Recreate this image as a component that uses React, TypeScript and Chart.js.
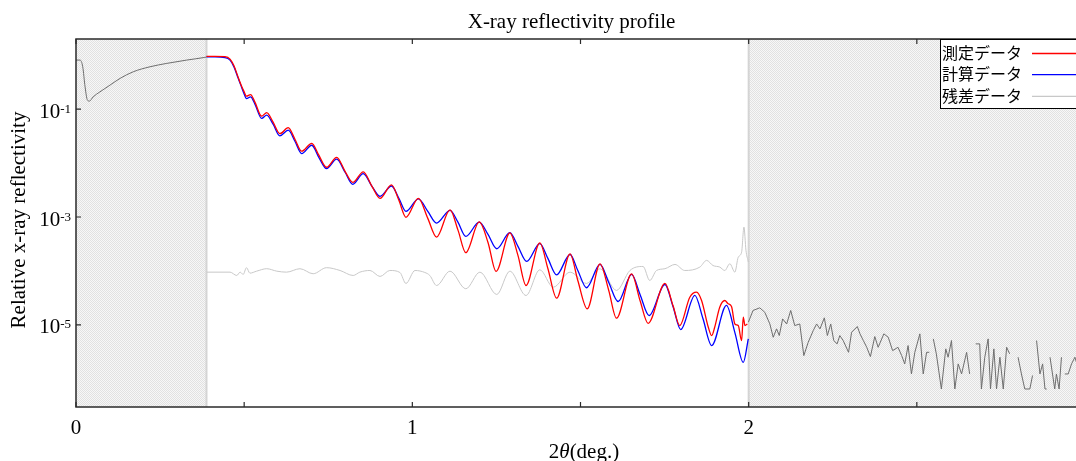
import React, { useEffect, useRef } from "react";
import { Chart, registerables } from "chart.js";

Chart.register(...registerables);

// ---------------- text ----------------
const chartTitle = "X-ray reflectivity profile";
const xTitleParts = ["2", "θ", "(deg.)"];
const yTitle = "Relative x-ray reflectivity";
const legendLabels = ["測定データ", "計算データ", "残差データ"];

// ---------------- axes ----------------
const xTickValues = [0, 0.5, 1, 1.5, 2, 2.5, 3];
const xTickLabels = ["0", "", "1", "", "2", "", "3"];
const yTickExponents = [-1, -3, -5];
const xRange = [0, 3];
const yRange = [3e-7, 2];
const fitRange = [0.388, 2.0];

// ---------------- data ----------------
const measuredX = [0.388, 0.413, 0.443, 0.458, 0.470, 0.482, 0.490, 0.499, 0.507, 0.519, 0.532, 0.552, 0.567, 0.586, 0.606, 0.631, 0.651, 0.671, 0.701, 0.722, 0.745, 0.775, 0.800, 0.823, 0.854, 0.880, 0.904, 0.938, 0.960, 0.981, 1.018, 1.046, 1.072, 1.112, 1.136, 1.159, 1.199, 1.225, 1.249, 1.290, 1.314, 1.338, 1.379, 1.403, 1.429, 1.469, 1.492, 1.520, 1.558, 1.584, 1.607, 1.652, 1.677, 1.701, 1.751, 1.775, 1.795, 1.825, 1.845, 1.860, 1.880, 1.890, 1.899, 1.914, 1.929, 1.939, 1.949, 1.959, 1.969, 1.979, 1.984, 1.989, 1.996];
const measuredY = [0.95, 0.95, 0.94, 0.849, 0.630, 0.393, 0.291, 0.216, 0.174, 0.186, 0.135, 0.0741, 0.0861, 0.0573, 0.0351, 0.0453, 0.0277, 0.0166, 0.0233, 0.0140, 0.00837, 0.0128, 0.00705, 0.00440, 0.00690, 0.00371, 0.00222, 0.00396, 0.00204, 9.86e-4, 0.00222, 9.44e-4, 4.24e-4, 1.36e-3, 5.65e-4, 2.18e-4, 8.13e-4, 3.38e-4, 9.79e-5, 5.08e-4, 1.94e-4, 5.37e-5, 3.31e-4, 1.11e-4, 3.13e-5, 2.07e-4, 6.65e-5, 1.99e-5, 1.35e-4, 4.35e-5, 1.33e-5, 8.79e-5, 2.83e-5, 1.07e-5, 5.86e-5, 2.29e-5, 9.71e-6, 3.26e-5, 4.04e-5, 2.83e-5, 9.03e-6, 6.34e-6, 9.03e-6, 2.12e-5, 2.83e-5, 2.46e-5, 2.19e-5, 1.04e-5, 9.71e-6, 5.12e-6, 1.39e-5, 9.71e-6, 1.04e-5];

const calculatedX = [0.388, 0.413, 0.443, 0.458, 0.470, 0.482, 0.490, 0.499, 0.507, 0.519, 0.532, 0.552, 0.567, 0.586, 0.606, 0.631, 0.651, 0.671, 0.701, 0.722, 0.745, 0.775, 0.800, 0.823, 0.854, 0.880, 0.904, 0.938, 0.960, 0.981, 1.018, 1.046, 1.072, 1.112, 1.136, 1.159, 1.199, 1.225, 1.251, 1.290, 1.314, 1.340, 1.379, 1.403, 1.429, 1.469, 1.492, 1.518, 1.558, 1.584, 1.612, 1.652, 1.677, 1.704, 1.751, 1.775, 1.798, 1.840, 1.864, 1.890, 1.934, 1.959, 1.984, 1.999];
const calculatedY = [0.93, 0.93, 0.906, 0.813, 0.602, 0.377, 0.279, 0.198, 0.157, 0.169, 0.124, 0.0672, 0.0774, 0.0526, 0.0319, 0.0407, 0.0254, 0.0150, 0.0214, 0.0128, 0.00791, 0.0118, 0.00676, 0.00404, 0.00639, 0.00371, 0.00242, 0.00376, 0.00222, 0.00127, 0.00217, 0.00127, 7.73e-4, 1.33e-3, 7.96e-4, 4.37e-4, 8.06e-4, 4.76e-4, 2.58e-4, 5.12e-4, 2.85e-4, 1.50e-4, 3.20e-4, 1.71e-4, 8.49e-5, 2.02e-4, 1.02e-4, 4.88e-5, 1.32e-4, 6.11e-5, 2.71e-5, 8.61e-5, 3.66e-5, 1.49e-5, 5.61e-5, 2.19e-5, 8.18e-6, 3.51e-5, 1.31e-5, 4.13e-6, 2.29e-5, 7.20e-6, 2.02e-6, 5.50e-6];

const residualX = [0.389, 0.458, 0.478, 0.488, 0.497, 0.507, 0.517, 0.537, 0.567, 0.597, 0.626, 0.666, 0.705, 0.745, 0.785, 0.824, 0.844, 0.874, 0.904, 0.933, 0.963, 0.981, 1.008, 1.037, 1.052, 1.072, 1.112, 1.159, 1.201, 1.251, 1.290, 1.338, 1.379, 1.419, 1.469, 1.518, 1.558, 1.607, 1.647, 1.686, 1.706, 1.726, 1.751, 1.781, 1.810, 1.855, 1.875, 1.894, 1.914, 1.929, 1.944, 1.959, 1.969, 1.979, 1.986, 1.992, 1.999];
const residualY = [9.50e-5, 9.50e-5, 8.24e-5, 9.50e-5, 8.61e-5, 1.15e-4, 9.10e-5, 9.91e-5, 1.10e-4, 9.91e-5, 9.50e-5, 1.10e-4, 8.87e-5, 1.15e-4, 1.02e-4, 8.24e-5, 9.50e-5, 1.02e-4, 7.90e-5, 1.02e-4, 9.38e-5, 5.86e-5, 1.02e-4, 9.38e-5, 8.24e-5, 5.37e-5, 9.91e-5, 4.67e-5, 9.50e-5, 3.66e-5, 9.91e-5, 3.51e-5, 1.05e-4, 5.00e-5, 9.50e-5, 5.86e-5, 1.10e-4, 4.35e-5, 1.02e-4, 1.21e-4, 6.65e-5, 1.02e-4, 1.10e-4, 1.32e-4, 1.02e-4, 1.18e-4, 1.57e-4, 1.26e-4, 1.18e-4, 1.02e-4, 1.36e-4, 9.50e-5, 1.80e-4, 2.23e-4, 6.51e-4, 2.40e-4, 1.46e-4];

const lowAngleX = [0, 0.012, 0.020, 0.027, 0.034, 0.040, 0.051, 0.071, 0.101, 0.131, 0.170, 0.220, 0.270, 0.329, 0.383, 0.388];
const lowAngleY = [0.813, 0.813, 0.611, 0.259, 0.147, 0.141, 0.169, 0.209, 0.279, 0.372, 0.493, 0.611, 0.706, 0.813, 0.912, 0.925];

const highAngleX = [1.999, 2.013, 2.033, 2.048, 2.063, 2.073, 2.083, 2.091, 2.101, 2.113, 2.125, 2.137, 2.152, 2.164, 2.177, 2.192, 2.202, 2.212, 2.225, 2.234, 2.244, 2.253, 2.263, 2.271, 2.281, 2.297, 2.306, 2.323, 2.331, 2.341, 2.351, 2.362, 2.375, 2.385, 2.402, 2.415, 2.428, 2.444, 2.455, 2.464, 2.474, 2.484, 2.494, 2.509, 2.519, 2.529, 2.537, 2.541, 2.549, 2.558, 2.573, 2.586, 2.593, 2.603, 2.613, 2.623, 2.633, 2.648, 2.657, 2.663, 2.675, 2.687, 2.692, 2.702, 2.712, 2.719, 2.729, 2.737, 2.747, 2.757, 2.767, 2.776, 2.791, 2.801, 2.811, 2.821, 2.836, 2.844, 2.851, 2.856, 2.866, 2.874, 2.881, 2.886, 2.891, 2.896, 2.910, 2.915, 2.923, 2.930, 2.935, 2.940, 2.950, 2.960, 2.970, 2.985, 2.996];
const highAngleY = [1.12e-5, 1.85e-5, 2.07e-5, 1.71e-5, 1.04e-5, 5.89e-6, 8.43e-6, 6.34e-6, 1.29e-5, 1.04e-5, 1.85e-5, 9.71e-6, 1.04e-5, 2.69e-6, 4.75e-6, 7.84e-6, 1.04e-5, 8.43e-6, 1.35e-5, 6.34e-6, 1.04e-5, 5.12e-6, 4.44e-6, 6.34e-6, 5.12e-6, 3.10e-6, 7.29e-6, 9.31e-6, 6.81e-6, 5.12e-6, 3.84e-6, 2.58e-6, 6.07e-6, 3.84e-6, 6.81e-6, 5.89e-6, 3.33e-6, 3.84e-6, 2.69e-6, 1.89e-6, 4.13e-6, 1.23e-6, 3.10e-6, 6.81e-6, 1.23e-6, 3.10e-6, 3.10e-6, 0, 5.50e-6, 2.90e-6, 6.47e-7, 3.59e-6, 2.51e-6, 5.12e-6, 6.47e-7, 1.89e-6, 1.23e-6, 3.10e-6, 1.23e-6, 0, 4.44e-6, 4.44e-6, 6.47e-7, 2.51e-6, 5.50e-6, 6.47e-7, 3.59e-6, 6.47e-7, 2.51e-6, 6.47e-7, 3.84e-6, 2.90e-6, 0, 2.51e-6, 1.23e-6, 6.47e-7, 6.47e-7, 1.15e-6, 0, 5.12e-6, 1.23e-6, 1.89e-6, 6.47e-7, 6.47e-7, 0, 2.51e-6, 6.47e-7, 1.23e-6, 6.47e-7, 2.51e-6, 0, 1.23e-6, 1.23e-6, 1.89e-6, 2.51e-6, 1.23e-6, 1.89e-6];

// ---------------- layout ----------------
const W = 1100;
const H = 470;
const SERIF = '"Liberation Serif", "Times New Roman", serif';
const CJK = '"Noto Sans CJK JP", "Noto Sans", sans-serif';

const pts = (xs: number[], ys: number[]) => xs.map((x, i) => ({ x, y: ys[i] }));

function makePattern(ctx: CanvasRenderingContext2D) {
  const c = document.createElement("canvas");
  c.width = 2;
  c.height = 2;
  const p = c.getContext("2d")!;
  p.fillStyle = "#f7f7f7";
  p.fillRect(0, 0, 2, 2);
  p.fillStyle = "#e1e1e1";
  p.fillRect(0, 0, 1, 1);
  p.fillRect(1, 1, 1, 1);
  return ctx.createPattern(c, "repeat");
}

const decorPlugin = {
  id: "decor",
  beforeDatasetsDraw(chart: any) {
    const { ctx, chartArea: a, scales } = chart;
    const xs = scales.x;
    const x0 = xs.getPixelForValue(fitRange[0]);
    const x1 = xs.getPixelForValue(fitRange[1]);
    ctx.save();
    const pat = makePattern(ctx);
    if (pat) ctx.fillStyle = pat;
    ctx.fillRect(a.left, a.top, x0 - a.left, a.bottom - a.top);
    ctx.fillRect(x1, a.top, a.right - x1, a.bottom - a.top);
    ctx.strokeStyle = "#d4d4d4";
    ctx.lineWidth = 2;
    ctx.beginPath();
    ctx.moveTo(x0, a.top);
    ctx.lineTo(x0, a.bottom);
    ctx.moveTo(x1, a.top);
    ctx.lineTo(x1, a.bottom);
    ctx.stroke();
    ctx.restore();
  },
  afterDraw(chart: any) {
    const { ctx, chartArea: a, scales } = chart;
    const xs = scales.x;
    const ys = scales.y;
    ctx.save();

    // frame
    ctx.strokeStyle = "#2a2a2a";
    ctx.lineWidth = 1.5;
    ctx.strokeRect(a.left, a.top, a.right - a.left, a.bottom - a.top);

    // x ticks (inward, bottom and top)
    ctx.lineWidth = 1.2;
    ctx.fillStyle = "#000";
    ctx.font = `21px ${SERIF}`;
    ctx.textAlign = "center";
    ctx.textBaseline = "alphabetic";
    xTickValues.forEach((v, i) => {
      const px = xs.getPixelForValue(v);
      ctx.beginPath();
      ctx.moveTo(px, a.bottom);
      ctx.lineTo(px, a.bottom - 5);
      ctx.moveTo(px, a.top);
      ctx.lineTo(px, a.top + 5);
      ctx.stroke();
      if (xTickLabels[i]) ctx.fillText(xTickLabels[i], px, a.bottom + 27);
    });

    // y ticks with 10^n labels
    yTickExponents.forEach((e) => {
      const py = ys.getPixelForValue(Math.pow(10, e));
      ctx.beginPath();
      ctx.moveTo(a.left, py);
      ctx.lineTo(a.left + 5, py);
      ctx.moveTo(a.right, py);
      ctx.lineTo(a.right - 5, py);
      ctx.stroke();
      const sup = String(e);
      ctx.textAlign = "right";
      ctx.font = `13px ${SERIF}`;
      const sw = ctx.measureText(sup).width;
      ctx.fillText(sup, a.left - 5, py + 3.5);
      ctx.font = `21px ${SERIF}`;
      ctx.fillText("10", a.left - 5 - sw, py + 8.5);
    });

    // title
    ctx.textAlign = "center";
    ctx.font = `21px ${SERIF}`;
    ctx.fillText(chartTitle, 571.5, 28);

    // x axis title: 2θ(deg.)
    const fonts = [`21px ${SERIF}`, `italic 21px ${SERIF}`, `21px ${SERIF}`];
    let total = 0;
    const widths = xTitleParts.map((t, i) => {
      ctx.font = fonts[i];
      const w = ctx.measureText(t).width;
      total += w;
      return w;
    });
    let cx = 584 - total / 2;
    ctx.textAlign = "left";
    xTitleParts.forEach((t, i) => {
      ctx.font = fonts[i];
      ctx.fillText(t, cx, 458);
      cx += widths[i];
    });

    // y axis title
    ctx.save();
    ctx.translate(25, 220);
    ctx.rotate(-Math.PI / 2);
    ctx.textAlign = "center";
    ctx.font = `21px ${SERIF}`;
    ctx.fillText(yTitle, 0, 0);
    ctx.restore();

    // legend
    const lx = 940;
    const ly = a.top;
    const lr = a.right;
    const lb = 109;
    ctx.fillStyle = "#fff";
    ctx.fillRect(lx, ly, lr - lx, lb - ly);
    ctx.strokeStyle = "#000";
    ctx.lineWidth = 1;
    ctx.strokeRect(lx + 0.5, ly + 0.5, lr - lx - 1, lb - ly - 1);
    const rows = [52.7, 73.8, 95.5];
    ctx.font = `16px ${CJK}`;
    ctx.textAlign = "left";
    ctx.textBaseline = "middle";
    legendLabels.forEach((lab, i) => {
      const ds = chart.data.datasets[i];
      ctx.fillStyle = "#000";
      ctx.fillText(lab, lx + 2, rows[i]);
      ctx.strokeStyle = ds.borderColor;
      ctx.lineWidth = 1.3;
      ctx.beginPath();
      ctx.moveTo(1032, rows[i] + 0.8);
      ctx.lineTo(1080, rows[i] + 0.8);
      ctx.stroke();
    });

    ctx.restore();
  },
};

export default function App() {
  const ref = useRef<HTMLCanvasElement>(null);

  useEffect(() => {
    const canvas = ref.current;
    if (!canvas) return;
    const chart = new Chart(canvas, {
      type: "line",
      data: {
        datasets: [
          {
            label: legendLabels[0],
            data: pts(measuredX, measuredY),
            borderColor: "#ff0000",
            borderWidth: 1.3,
            pointRadius: 0,
            cubicInterpolationMode: "monotone",
            fill: false,
          },
          {
            label: legendLabels[1],
            data: pts(calculatedX, calculatedY),
            borderColor: "#0000ff",
            borderWidth: 1.3,
            pointRadius: 0,
            cubicInterpolationMode: "monotone",
            fill: false,
          },
          {
            label: legendLabels[2],
            data: pts(residualX, residualY),
            borderColor: "#c8c8c8",
            borderWidth: 1,
            pointRadius: 0,
            cubicInterpolationMode: "monotone",
            fill: false,
          },
          {
            label: "low angle",
            data: pts(lowAngleX, lowAngleY),
            borderColor: "#6e6e6e",
            borderWidth: 1,
            pointRadius: 0,
            cubicInterpolationMode: "monotone",
            fill: false,
          },
          {
            label: "high angle",
            data: pts(highAngleX, highAngleY),
            borderColor: "#6e6e6e",
            borderWidth: 1,
            pointRadius: 0,
            tension: 0,
            fill: false,
          },
        ],
      },
      options: {
        animation: false,
        responsive: false,
        devicePixelRatio: 1,
        events: [],
        layout: { padding: { left: 0, right: W - 1085, top: 39, bottom: 0 } },
        plugins: {
          legend: { display: false },
          title: { display: false },
          tooltip: { enabled: false },
        },
        scales: {
          x: {
            type: "linear",
            min: xRange[0],
            max: xRange[1],
            ticks: { display: false },
            grid: { display: false },
            border: { display: false },
            afterFit: (s: any) => {
              s.height = H - 407;
            },
          },
          y: {
            type: "logarithmic",
            min: yRange[0],
            max: yRange[1],
            ticks: { display: false },
            grid: { display: false },
            border: { display: false },
            afterFit: (s: any) => {
              s.width = 76;
            },
          },
        },
      } as any,
      plugins: [decorPlugin],
    });
    return () => chart.destroy();
  }, []);

  return (
    <div
      style={{
        position: "fixed",
        left: 0,
        top: 0,
        width: 1076,
        height: 461,
        overflow: "hidden",
        background: "#fff",
      }}
    >
      <canvas ref={ref} width={W} height={H} style={{ display: "block", width: W, height: H }} />
    </div>
  );
}
